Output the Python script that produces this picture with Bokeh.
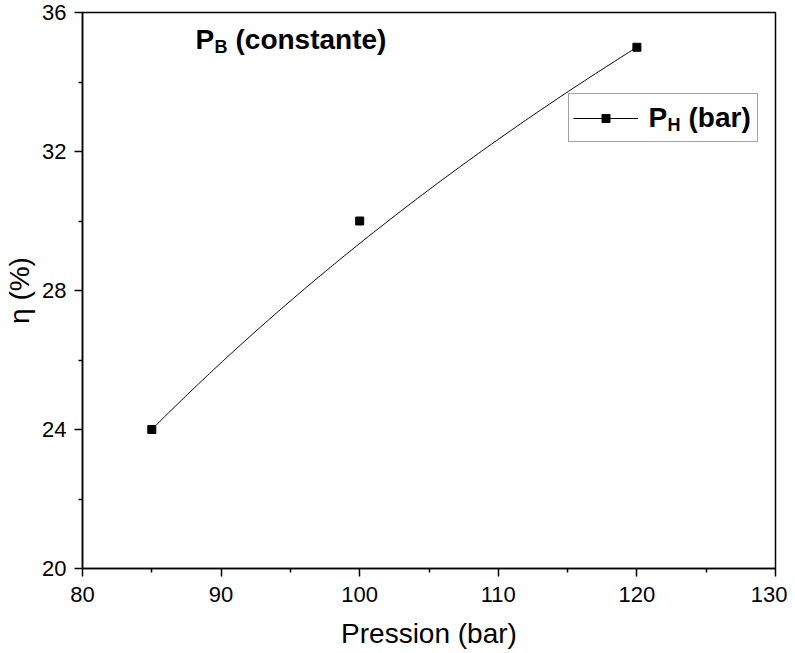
import numpy as np
from bokeh.plotting import figure
from bokeh.models import Range1d, Label, Legend, LegendItem, FixedTicker
from bokeh.embed import file_html
from bokeh.resources import INLINE

# ---- data ----
pression = [85, 100, 120]
eta = [24, 30, 35]
x_ticks = [80, 90, 100, 110, 120, 130]
x_minor = [85, 95, 105, 115, 125]
y_ticks = [20, 24, 28, 32, 36]
y_minor = [22, 26, 30, 34]
x_label = "Pression (bar)"
y_label = "η (%)"

FONT = "Liberation Sans"
W, H = 787, 651
FL, FR, FT, FB = 82, 775, 12, 568          # frame edges in page pixels
X0, X1, Y0, Y1 = 80, 130, 20, 36

p = figure(width=W, height=H, output_backend="svg", toolbar_location=None,
           x_range=Range1d(X0, X1), y_range=Range1d(Y0, Y1),
           min_border_left=FL, min_border_right=W - FR,
           min_border_top=FT, min_border_bottom=H - FB)
p.grid.visible = False
p.outline_line_color = "black"
p.outline_line_width = 1.5
p.outline_line_alpha = 1.0
p.background_fill_color = "white"
p.border_fill_color = "white"

for ax in (p.xaxis[0], p.yaxis[0]):
    ax.axis_line_width = 1.5
    ax.major_tick_line_width = 1.5
    ax.minor_tick_line_width = 1.5
    ax.major_tick_in = 0
    ax.major_tick_out = 8
    ax.minor_tick_in = 0
    ax.minor_tick_out = 4
    ax.major_label_text_font = FONT
    ax.major_label_text_font_size = "22px"
    ax.major_label_text_color = "black"
    ax.axis_label_text_font = FONT
    ax.axis_label_text_font_size = "28px"
    ax.axis_label_text_font_style = "normal"
    ax.axis_label_text_color = "black"

p.xaxis.ticker = FixedTicker(ticks=x_ticks, minor_ticks=x_minor)
p.yaxis.ticker = FixedTicker(ticks=y_ticks, minor_ticks=y_minor)
p.xaxis.axis_label = x_label
p.yaxis.axis_label = y_label
p.xaxis.major_label_standoff = 10
p.xaxis.axis_label_standoff = 13
p.yaxis.major_label_standoff = 8
p.yaxis.axis_label_standoff = 4

# smooth B-spline (quadratic Bezier) with the data points as control points, as in Origin
t = np.linspace(0, 1, 200)[:, None]
P = np.column_stack([pression, eta]).astype(float)
curve = (1 - t) ** 2 * P[0] + 2 * (1 - t) * t * P[1] + t ** 2 * P[2]
line_r = p.line(curve[:, 0], curve[:, 1], line_color="black", line_width=1)
pts_r = p.scatter(pression, eta, marker="square", size=8, fill_color="black", line_color="black")

legend = Legend(items=[LegendItem(label=" ", renderers=[line_r, pts_r])],
                location=(569 - FL - 1, FB - 142), margin=0, padding=4, spacing=0,
                glyph_width=65, glyph_height=20, label_standoff=5,
                label_width=110, label_height=39,
                label_text_font_size="28px",
                border_line_color="#444444", border_line_width=1,
                background_fill_alpha=0.0)
p.add_layout(legend)

# helper: page pixel -> data coordinates
def dx(px):
    return X0 + (px - FL) * (X1 - X0) / (FR - FL)

def dy(py):
    return Y1 - (py - FT) * (Y1 - Y0) / (FB - FT)

def txt(s, px, py, size, bold=True):
    p.add_layout(Label(x=dx(px), y=dy(py), text=s, text_font=FONT,
                       text_font_size=size, text_font_style="bold" if bold else "normal",
                       text_color="black", text_baseline="alphabetic", text_align="left"))

# annotation "P_B (constante)"
txt("P", 195, 39, "28px")
txt("B", 214, 46, "18px")
txt("(constante)", 235, 39, "28px")

# legend label "P_H (bar)"
txt("P", 648, 117, "28px")
txt("H", 667, 124, "18px")
txt("(bar)", 688, 117, "28px")

open("out.html", "w").write(file_html(p, INLINE))
